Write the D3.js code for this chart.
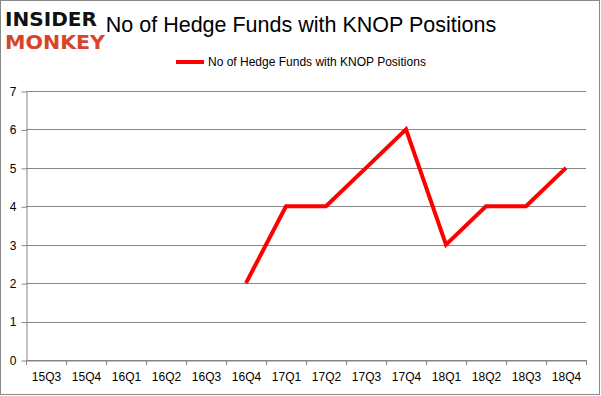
<!DOCTYPE html>
<html>
<head>
<meta charset="utf-8">
<script src="https://cdn.jsdelivr.net/npm/d3@7"></script>
<style>
  body { margin: 0; background: #fff; }
  svg text { font-family: "Liberation Sans", Arial, sans-serif; }
</style>
</head>
<body>
<div id="chart"></div>
<script>
// chart data
var quarters = ['15Q3','15Q4','16Q1','16Q2','16Q3','16Q4','17Q1','17Q2','17Q3','17Q4','18Q1','18Q2','18Q3','18Q4']
var fundCounts = [null, null, null, null, null, 2, 4, 4, 5, 6, 3, 4, 4, 5]
var yTicks = [0, 1, 2, 3, 4, 5, 6, 7]
var seriesName = 'No of Hedge Funds with KNOP Positions'

var width = 601, height = 396

var svg = d3.select('#chart')
  .append('svg')
  .attr('width', width)
  .attr('height', height)

// outer frame
svg.append('rect')
  .attr('x', 0.5).attr('y', 0.5)
  .attr('width', 599).attr('height', 394)
  .style('fill', 'white')
  .style('stroke', '#888')
  .style('stroke-width', 1)

var plot = { left: 26, right: 586, top: 91, bottom: 360 }

var x = d3.scaleBand()
  .domain(quarters)
  .range([plot.left, plot.right])

var y = d3.scaleLinear()
  .domain([0, 7])
  .range([plot.bottom, plot.top])

// gridlines
svg.append('g')
  .selectAll('line')
  .data(yTicks)
  .enter().append('line')
    .attr('x1', plot.left)
    .attr('x2', plot.right)
    .attr('y1', d => Math.round(y(d)) + 0.5)
    .attr('y2', d => Math.round(y(d)) + 0.5)
    .style('stroke', '#868686')
    .style('stroke-width', 1)

// y axis
var yAxis = svg.append('g')
  .attr('transform', 'translate(' + (plot.left + 0.5) + ',0.5)')
  .call(d3.axisLeft(y).tickValues(yTicks).tickSize(5).tickSizeOuter(0).tickFormat(d3.format('d')))
yAxis.select('.domain').style('stroke', '#868686')
yAxis.selectAll('.tick line').style('stroke', '#868686')
yAxis.selectAll('.tick text')
  .attr('x', -10)
  .style('font-size', '12px')
  .style('fill', '#000')

// x axis
var xAxis = svg.append('g')
  .attr('transform', 'translate(0.5,' + (plot.bottom + 0.5) + ')')
  .call(d3.axisBottom(x).tickSize(0).tickSizeOuter(0))
xAxis.select('.domain').style('stroke', '#868686')
xAxis.selectAll('.tick text')
  .attr('y', 12)
  .style('font-size', '12px')
  .style('fill', '#000')

// x tick marks sit on category boundaries
svg.append('g')
  .selectAll('line')
  .data(quarters.concat(['end']))
  .enter().append('line')
    .attr('x1', (d, i) => plot.left + i * x.step() + 0.5)
    .attr('x2', (d, i) => plot.left + i * x.step() + 0.5)
    .attr('y1', plot.bottom)
    .attr('y2', plot.bottom + 5)
    .style('stroke', '#868686')

// series line
var line = d3.line()
  .defined(d => d.v !== null)
  .x(d => x(d.q) + x.bandwidth() / 2)
  .y(d => y(d.v))

svg.append('path')
  .datum(quarters.map((q, i) => ({ q: q, v: fundCounts[i] })))
  .attr('d', line)
  .style('fill', 'none')
  .style('stroke', '#ff0000')
  .style('stroke-width', 4)
  .style('stroke-linejoin', 'miter')

// title
svg.append('text')
  .attr('x', 301)
  .attr('y', 32)
  .attr('text-anchor', 'middle')
  .style('font-size', '21.5px')
  .style('fill', '#000')
  .text(seriesName)

// legend
svg.append('line')
  .attr('x1', 176).attr('x2', 204)
  .attr('y1', 62).attr('y2', 62)
  .style('stroke', '#ff0000')
  .style('stroke-width', 4)

svg.append('text')
  .attr('x', 208)
  .attr('y', 66)
  .style('font-size', '12px')
  .style('fill', '#000')
  .text(seriesName)

// logo (covers the start of the title, like the original)
var logo = svg.append('g')
logo.append('rect')
  .attr('x', 3).attr('y', 5).attr('width', 104).attr('height', 46)
  .style('fill', 'white')
logo.append('text')
  .attr('x', 5).attr('y', 26)
  .attr('textLength', 92)
  .attr('lengthAdjust', 'spacingAndGlyphs')
  .style('font-family', '"DejaVu Sans", sans-serif')
  .style('font-weight', 'bold')
  .style('font-size', '19px')
  .style('fill', '#111')
  .text('INSIDER')
logo.append('text')
  .attr('x', 5).attr('y', 48.5)
  .attr('textLength', 100)
  .attr('lengthAdjust', 'spacingAndGlyphs')
  .style('font-family', '"DejaVu Sans", sans-serif')
  .style('font-weight', 'bold')
  .style('font-size', '19px')
  .style('fill', '#d9432b')
  .text('MONKEY')
</script>
</body>
</html>
